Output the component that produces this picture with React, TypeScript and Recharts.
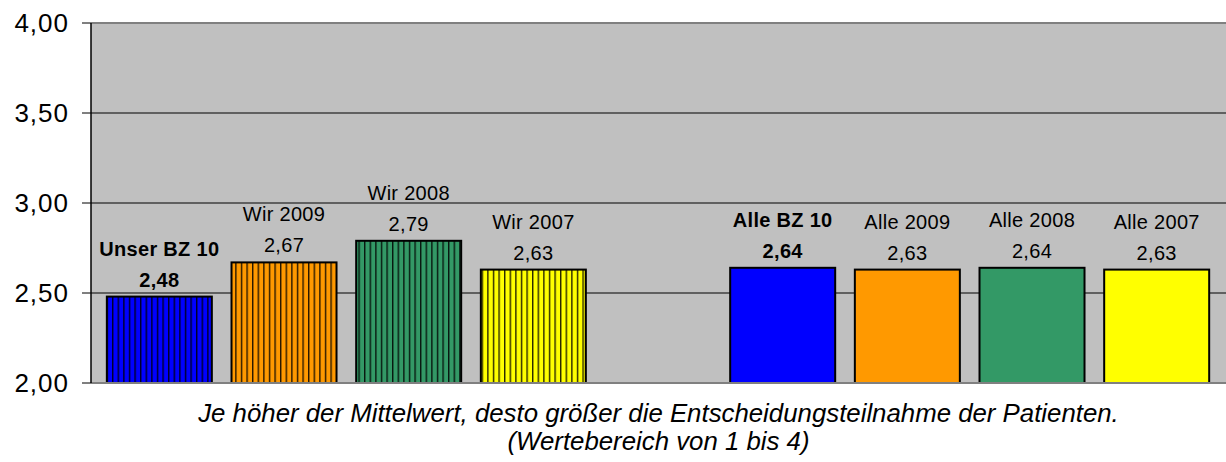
import React from "react";
import {
  BarChart,
  Bar,
  XAxis,
  YAxis,
  CartesianGrid,
  ReferenceLine,
  Label,
} from "recharts";

// Mean values per group (scale 1..4); the empty slot separates "Wir" from "Alle"
const categories = [
  "Unser BZ 10",
  "Wir 2009",
  "Wir 2008",
  "Wir 2007",
  "",
  "Alle BZ 10",
  "Alle 2009",
  "Alle 2008",
  "Alle 2007",
];
const values = [2.48, 2.67, 2.79, 2.63, null, 2.64, 2.63, 2.64, 2.63];
const barColors = [
  "#0000ff",
  "#ff9900",
  "#339966",
  "#ffff00",
  "none",
  "#0000ff",
  "#ff9900",
  "#339966",
  "#ffff00",
];
const striped = [true, true, true, true, false, false, false, false, false];
const boldLabels = [true, false, false, false, false, true, false, false, false];
const yTicks = [2, 2.5, 3, 3.5, 4];
const captionLines = [
  "Je höher der Mittelwert, desto größer die Entscheidungsteilnahme der Patienten.",
  "(Wertebereich von 1 bis 4)",
];

// slot keeps every category unique, including the empty gap
const data = categories.map((name, i) => ({ slot: `s${i}`, i, name, value: values[i] }));

const FONT = "'Liberation Sans', Arial, sans-serif";

const fmt = (v: number) => v.toFixed(2).replace(".", ",");

const BarShape = (props: any) => {
  const { x, y, width, height, payload } = props;
  // recharts skips the null row, so take the position from the payload, not from index
  const i = payload?.i;
  if (i == null || values[i] == null || !height) return null;
  const fill = striped[i] ? `url(#stripe-${i})` : barColors[i];
  const cx = x + width / 2;
  const weight = boldLabels[i] ? "bold" : "normal";
  return (
    <g>
      <rect x={x} y={y} width={width} height={height} fill={fill} stroke="#000" strokeWidth={2} />
      <text
        x={cx}
        y={y - 48}
        textAnchor="middle"
        dominantBaseline="central"
        fontFamily={FONT}
        fontSize={20}
        letterSpacing={0.3}
        fontWeight={weight}
        fill="#000"
      >
        {categories[i]}
      </text>
      <text
        x={cx}
        y={y - 17}
        textAnchor="middle"
        dominantBaseline="central"
        fontFamily={FONT}
        fontSize={20}
        letterSpacing={0.3}
        fontWeight={weight}
        fill="#000"
      >
        {fmt(values[i] as number)}
      </text>
    </g>
  );
};

const Caption = (props: any) => {
  const { viewBox } = props;
  const cx = 91 + (1226 - 91) / 2;
  return (
    <g>
      {captionLines.map((line, i) => (
        <text
          key={i}
          x={cx}
          y={viewBox.y + 30 + i * 28}
          textAnchor="middle"
          dominantBaseline="central"
          fontFamily={FONT}
          fontSize={25.8}
          fontStyle="italic"
          fill="#000"
        >
          {line}
        </text>
      ))}
    </g>
  );
};

export default function App() {
  return (
    <div style={{ position: "absolute", left: 0, top: 0, width: 1226, height: 462, background: "#fff" }}>
      <BarChart
        width={1226}
        height={462}
        data={data}
        margin={{ top: 23, right: 0, bottom: 0, left: 0 }}
        barCategoryGap="7.9%"
      >
        <defs>
          {barColors.map((c, i) =>
            striped[i] ? (
              <pattern key={i} id={`stripe-${i}`} patternUnits="userSpaceOnUse" width={5.6} height={8}>
                <rect x={0} y={0} width={5.6} height={8} fill={c} />
                <rect x={0} y={0} width={1.4} height={8} fill="#000" fillOpacity={0.85} />
              </pattern>
            ) : null
          )}
        </defs>
        <CartesianGrid fill="#c0c0c0" fillOpacity={1} vertical={false} stroke="#000" strokeWidth={1} />
        <XAxis
          dataKey="slot"
          type="category"
          tick={false}
          tickLine={false}
          axisLine={{ stroke: "#808080", strokeWidth: 2 }}
          height={79}
          padding={{ left: 6, right: 7 }}
        >
          <Label content={<Caption />} />
        </XAxis>
        <YAxis
          domain={[2, 4]}
          ticks={yTicks}
          tickFormatter={fmt}
          width={91}
          tickSize={9}
          tickMargin={13}
          axisLine={{ stroke: "#000", strokeWidth: 1.5 }}
          tickLine={{ stroke: "#000" }}
          tick={{ fontSize: 26, fill: "#000", fontFamily: FONT, letterSpacing: 1 }}
          allowDataOverflow
        />
        <ReferenceLine y={4} stroke="#808080" strokeWidth={2} />
        <Bar dataKey="value" shape={<BarShape />} isAnimationActive={false} />
      </BarChart>
    </div>
  );
}
